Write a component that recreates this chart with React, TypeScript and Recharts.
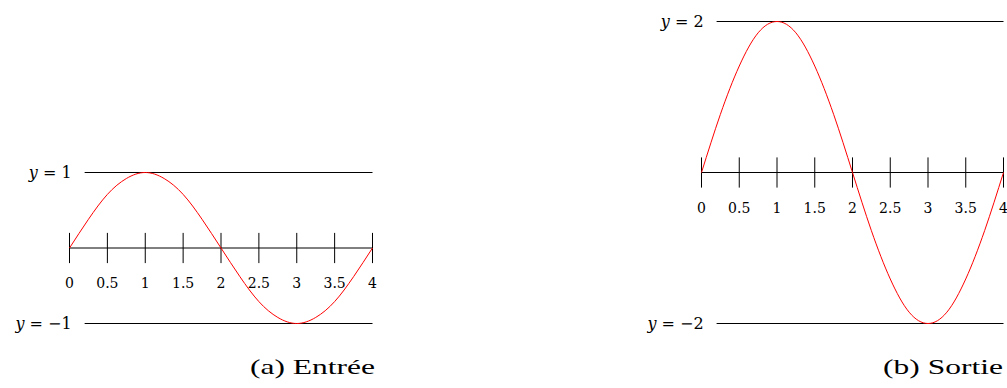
import { LineChart, Line, XAxis, YAxis, ReferenceLine } from "recharts";

// sample points along x
const xs = [0, 0.25, 0.5, 0.75, 1, 1.25, 1.5, 1.75, 2, 2.25, 2.5, 2.75, 3, 3.25, 3.5, 3.75, 4];
const entree = [0, 0.38, 0.71, 0.92, 1, 0.92, 0.71, 0.38, 0, -0.38, -0.71, -0.92, -1, -0.92, -0.71, -0.38, 0];
const sortie = [0, 0.77, 1.41, 1.85, 2, 1.85, 1.41, 0.77, 0, -0.77, -1.41, -1.85, -2, -1.85, -1.41, -0.77, 0];

const ticks = [0, 0.5, 1, 1.5, 2, 2.5, 3, 3.5, 4];
const tickLabels = ["0", "0.5", "1", "1.5", "2", "2.5", "3", "3.5", "4"];
const tickHalf = 0.2;

const levelsEntree = [1, -1];
const levelsSortie = [2, -2];
const levelStart = 0.2;
const levelEnd = 4;

const FONT = "'DejaVu Serif', serif";
const CAPTION_FONT = "'Liberation Serif', serif";

const fmt = (v: number) => (v < 0 ? "\u2212" + Math.abs(v) : String(v));

function LevelLabel(value: number) {
  return (props: any) => {
    const vb = props.viewBox || {};
    return (
      <text
        x={vb.x - 13}
        y={vb.y + 5}
        textAnchor="end"
        fontFamily={FONT}
        fontSize={16}
        fill="#000"
      >
        <tspan fontStyle="italic">y</tspan>
        {" = " + fmt(value)}
      </text>
    );
  };
}

function TickLabel(text: string) {
  return (props: any) => {
    const vb = props.viewBox || {};
    return (
      <text
        x={vb.x}
        y={vb.y + (vb.height || 0) + 25}
        textAnchor="middle"
        fontFamily={FONT}
        fontSize={14}
        fill="#000"
      >
        {text}
      </text>
    );
  };
}

function Panel({
  values,
  levels,
  width,
  margin,
}: {
  values: number[];
  levels: number[];
  width: number;
  margin: { top: number; bottom: number; left: number; right: number };
}) {
  const data = xs.map((x, i) => ({ x, y: values[i] }));
  const top = Math.max(...levels);
  return (
    <LineChart width={width} height={388} data={data} margin={margin}>
      <XAxis type="number" dataKey="x" domain={[0, 4]} hide />
      <YAxis type="number" domain={[-top, top]} hide />
      <ReferenceLine y={0} stroke="#000" strokeWidth={1} />
      {ticks.map((t, i) => (
        <ReferenceLine
          key={"t" + t}
          segment={[
            { x: t, y: -tickHalf },
            { x: t, y: tickHalf },
          ]}
          stroke="#000"
          strokeWidth={1}
          label={TickLabel(tickLabels[i])}
        />
      ))}
      {levels.map((lv) => (
        <ReferenceLine
          key={"l" + lv}
          segment={[
            { x: levelStart, y: lv },
            { x: levelEnd, y: lv },
          ]}
          stroke="#000"
          strokeWidth={1}
          label={LevelLabel(lv)}
        />
      ))}
      <Line
        type="natural"
        dataKey="y"
        stroke="#ff0000"
        strokeWidth={1}
        dot={false}
        isAnimationActive={false}
      />
    </LineChart>
  );
}

function Caption({ x, text }: { x: number; text: string }) {
  return (
    <text
      transform={`translate(${x},374) scale(1.5,1)`}
      textAnchor="middle"
      fontFamily={CAPTION_FONT}
      fontSize={21}
      fill="#000"
    >
      {text}
    </text>
  );
}

export default function App() {
  return (
    <div
      style={{
        position: "absolute",
        left: 0,
        top: 0,
        width: 1007,
        height: 388,
        overflow: "hidden",
        background: "#fff",
      }}
    >
      <div style={{ position: "absolute", left: 0, top: 0 }}>
        <Panel
          values={entree}
          levels={levelsEntree}
          width={390}
          margin={{ top: 172.5, bottom: 64.5, left: 69.5, right: 17.5 }}
        />
      </div>
      <div style={{ position: "absolute", left: 620, top: 0 }}>
        <Panel
          values={sortie}
          levels={levelsSortie}
          width={400}
          margin={{ top: 21.5, bottom: 64.5, left: 81.5, right: 16.5 }}
        />
      </div>
      <svg
        width={1007}
        height={388}
        style={{ position: "absolute", left: 0, top: 0, pointerEvents: "none" }}
      >
        <Caption x={312.5} text="(a) Entrée" />
        <Caption x={943} text="(b) Sortie" />
      </svg>
    </div>
  );
}
